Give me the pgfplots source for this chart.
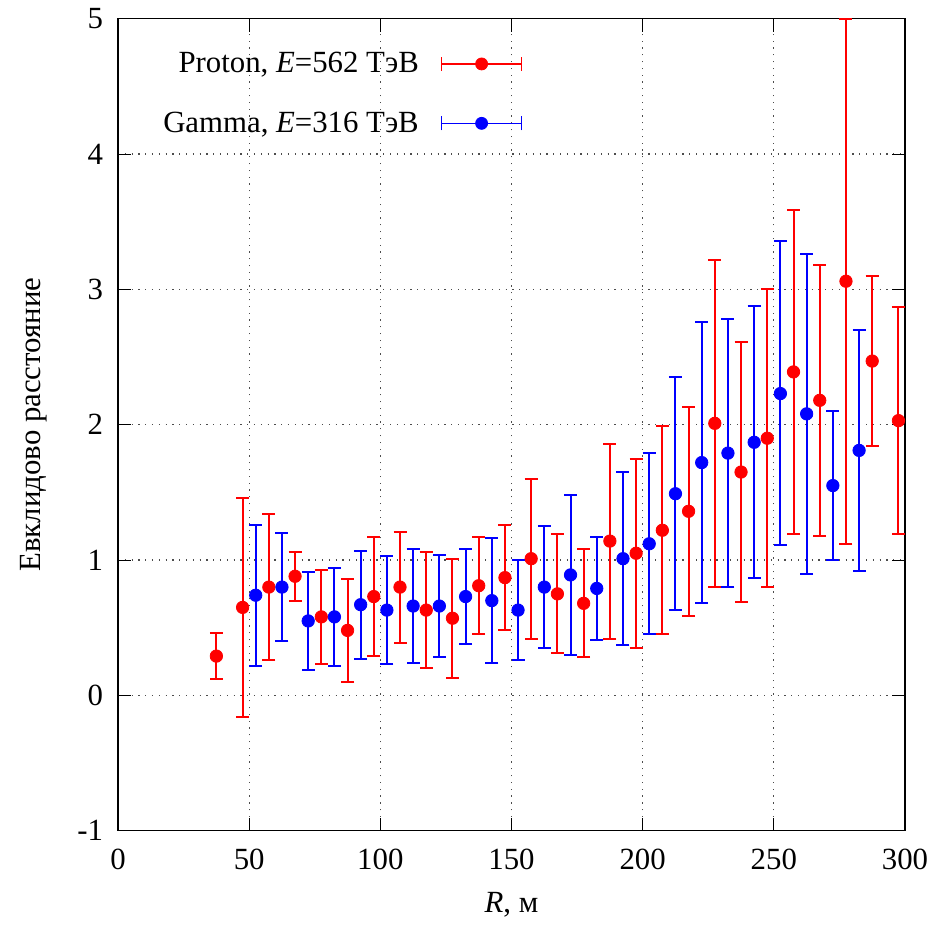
\documentclass[border=0pt]{standalone}
\usepackage{fontspec}
\setmainfont{Liberation Serif}
\usepackage{pgfplots}
\usepackage{pgfplotstable}
\pgfplotsset{compat=1.18}

\pgfplotstableread{
x y lo hi
37.5 0.29 0.12 0.46
47.5 0.65 -0.16 1.46
57.5 0.80 0.26 1.34
67.5 0.88 0.70 1.06
77.5 0.58 0.23 0.93
87.5 0.48 0.10 0.86
97.5 0.73 0.29 1.17
107.5 0.80 0.39 1.21
117.5 0.63 0.20 1.06
127.5 0.57 0.13 1.01
137.5 0.81 0.45 1.17
147.5 0.87 0.48 1.26
157.5 1.01 0.42 1.60
167.5 0.75 0.31 1.19
177.5 0.68 0.28 1.08
187.5 1.14 0.42 1.86
197.5 1.05 0.35 1.75
207.5 1.22 0.45 1.99
217.5 1.36 0.59 2.13
227.5 2.01 0.80 3.22
237.5 1.65 0.69 2.61
247.5 1.90 0.80 3.00
257.5 2.39 1.19 3.59
267.5 2.18 1.18 3.18
277.5 3.06 1.12 5.00
287.5 2.47 1.84 3.10
297.5 2.03 1.19 2.87
}\proton

\pgfplotstableread{
x y lo hi
52.5 0.74 0.22 1.26
62.5 0.80 0.40 1.20
72.5 0.55 0.19 0.91
82.5 0.58 0.22 0.94
92.5 0.67 0.27 1.07
102.5 0.63 0.23 1.03
112.5 0.66 0.24 1.08
122.5 0.66 0.28 1.04
132.5 0.73 0.38 1.08
142.5 0.70 0.24 1.16
152.5 0.63 0.26 1.00
162.5 0.80 0.35 1.25
172.5 0.89 0.30 1.48
182.5 0.79 0.41 1.17
192.5 1.01 0.37 1.65
202.5 1.12 0.45 1.79
212.5 1.49 0.63 2.35
222.5 1.72 0.68 2.76
232.5 1.79 0.80 2.78
242.5 1.87 0.87 2.88
252.5 2.23 1.11 3.36
262.5 2.08 0.90 3.26
272.5 1.55 1.00 2.10
282.5 1.81 0.92 2.70
}\gamma

\begin{document}
\begin{tikzpicture}
\begin{axis}[
  scale only axis,
  width=393.5pt, height=406pt,
  xmin=0, xmax=300, ymin=-1, ymax=5,
  xtick={0,50,...,300}, ytick={-1,0,...,5},
  font=\fontsize{15.4}{18}\selectfont,
  /pgf/number format/assume math mode=true,
  tick align=inside,
  major tick length=6.5pt,
  tick style={black, line width=0.5pt},
  axis line style={black, line width=0.7pt},
  grid=major,
  grid style={black!70, line width=0.6pt, dash pattern=on 0.6pt off 2.8pt},
  yticklabel style={xshift=-4pt},
  xticklabel style={yshift=-5.5pt},
  xlabel={\textit{R}, м},
  ylabel={Евклидово расстояние},
  xlabel style={at={(rel axis cs:0.5,0)}, anchor=center, yshift=-37pt},
  ylabel style={at={(rel axis cs:-0.1067,0.5)}, anchor=center},
  legend plot pos=right,
  legend cell align=right,
  legend style={draw=none, fill=none, at={(rel axis cs:0.522,0.969)}, anchor=north east,
    font=\fontsize{15.4}{18}\selectfont, row sep=14pt,
    /tikz/every odd column/.append style={column sep=9pt}},
]
\addplot[red, only marks, mark=*, mark size=3.1pt,
  legend image code/.code={
    \draw[red, line width=0.8pt] (0pt,0pt) -- (40pt,0pt);
    \draw[red, line width=0.8pt] (0pt,-3.5pt) -- (0pt,3.5pt);
    \draw[red, line width=0.8pt] (40pt,-3.5pt) -- (40pt,3.5pt);
    \fill[red] (20pt,0pt) circle (3pt);},
  error bars/.cd, y dir=both, y explicit,
  error bar style={red, line width=1pt},
  error mark options={red, rotate=90, mark size=3.25pt, line width=1pt}]
  table[x=x, y=y, y error plus expr=\thisrow{hi}-\thisrow{y}, y error minus expr=\thisrow{y}-\thisrow{lo}] {\proton};
\addlegendentry{Proton, \textit{E}=562 ТэВ}
\addplot[blue, only marks, mark=*, mark size=3.1pt,
  legend image code/.code={
    \draw[blue, line width=0.8pt] (0pt,0pt) -- (40pt,0pt);
    \draw[blue, line width=0.8pt] (0pt,-3.5pt) -- (0pt,3.5pt);
    \draw[blue, line width=0.8pt] (40pt,-3.5pt) -- (40pt,3.5pt);
    \fill[blue] (20pt,0pt) circle (3pt);},
  error bars/.cd, y dir=both, y explicit,
  error bar style={blue, line width=1pt},
  error mark options={blue, rotate=90, mark size=3.25pt, line width=1pt}]
  table[x=x, y=y, y error plus expr=\thisrow{hi}-\thisrow{y}, y error minus expr=\thisrow{y}-\thisrow{lo}] {\gamma};
\addlegendentry{Gamma, \textit{E}=316 ТэВ}
\end{axis}
\pgfresetboundingbox
\useasboundingbox ([xshift=-59pt,yshift=-47pt]current axis.south west) rectangle ([xshift=23.5pt,yshift=9.35pt]current axis.north east);
\end{tikzpicture}
\end{document}
